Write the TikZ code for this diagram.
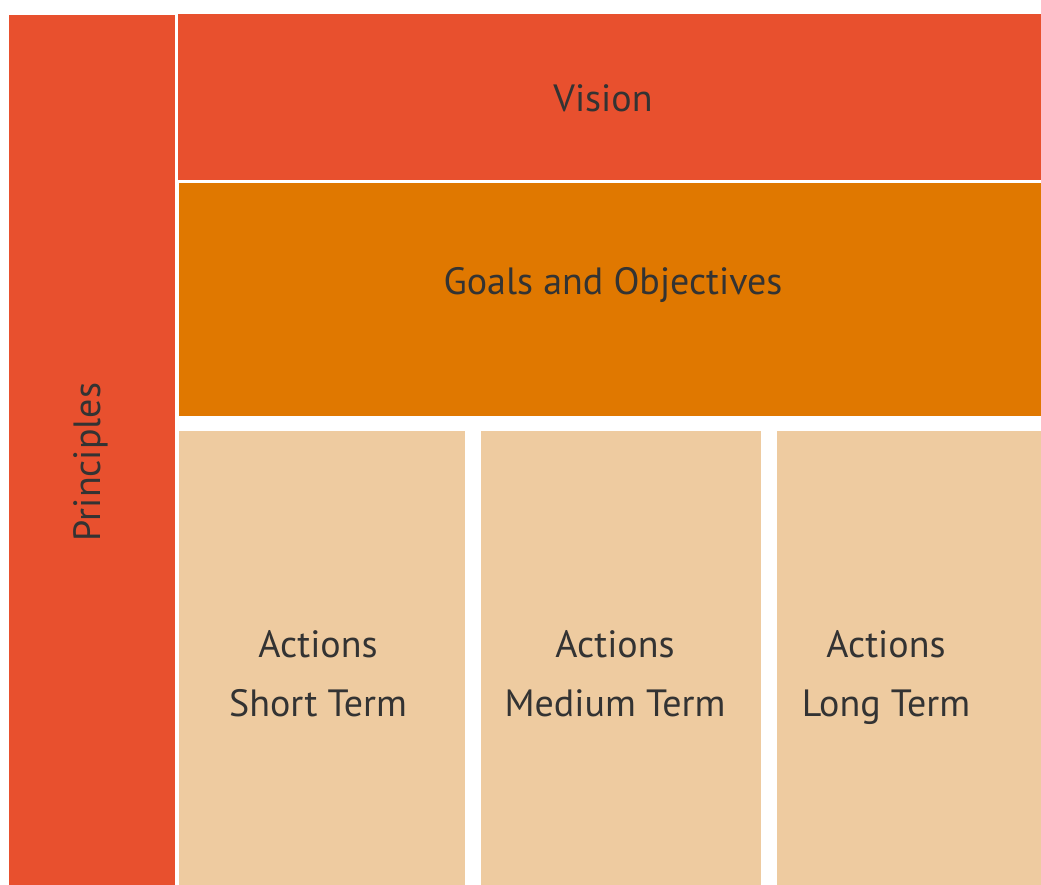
\documentclass[tikz,border=0pt]{standalone}
\usepackage{fontspec}
\setmainfont{PT Sans}
\usepackage{tikz}
\definecolor{visionred}{HTML}{E8502E}
\definecolor{goalorange}{HTML}{E07800}
\definecolor{actiontan}{HTML}{EECBA0}
\definecolor{labelgray}{HTML}{333333}
\tikzset{
  lbl/.style={text=labelgray, font=\fontsize{38}{59}\selectfont, align=center, inner sep=0pt},
  actionlbl/.style={lbl, text depth=0pt},
}

\begin{document}
\begin{tikzpicture}[x=1pt, y=-1pt]
			%%%%% START %%%%%
			\useasboundingbox (0, 0) rectangle (1041, 885);
			
			\fill[visionred] (9, 15) rectangle (175, 885);
			\node[lbl, rotate=90] (principles) at (91, 462) {Principles};
			
			\fill[visionred] (178, 14) rectangle (1041, 180);
			\node[lbl] (vision) at (603, 98) {Vision};
			
			\fill[goalorange] (179, 183) rectangle (1041, 416);
			\node[lbl] (goals) at (613, 285) {Goals and Objectives};
			
			\fill[actiontan] (179, 431) rectangle (465, 885);
			\node[actionlbl] (shortterm) at (318, 673) {Actions\\Short Term};
			
			\fill[actiontan] (481, 431) rectangle (761, 885);
			\node[actionlbl] (mediumterm) at (615, 673) {Actions\\Medium Term};
			
			\fill[actiontan] (777, 431) rectangle (1041, 885);
			\node[actionlbl] (longterm) at (886, 673) {Actions\\Long Term};
			
			%%%%% END %%%%%
		\end{tikzpicture}
\end{document}
